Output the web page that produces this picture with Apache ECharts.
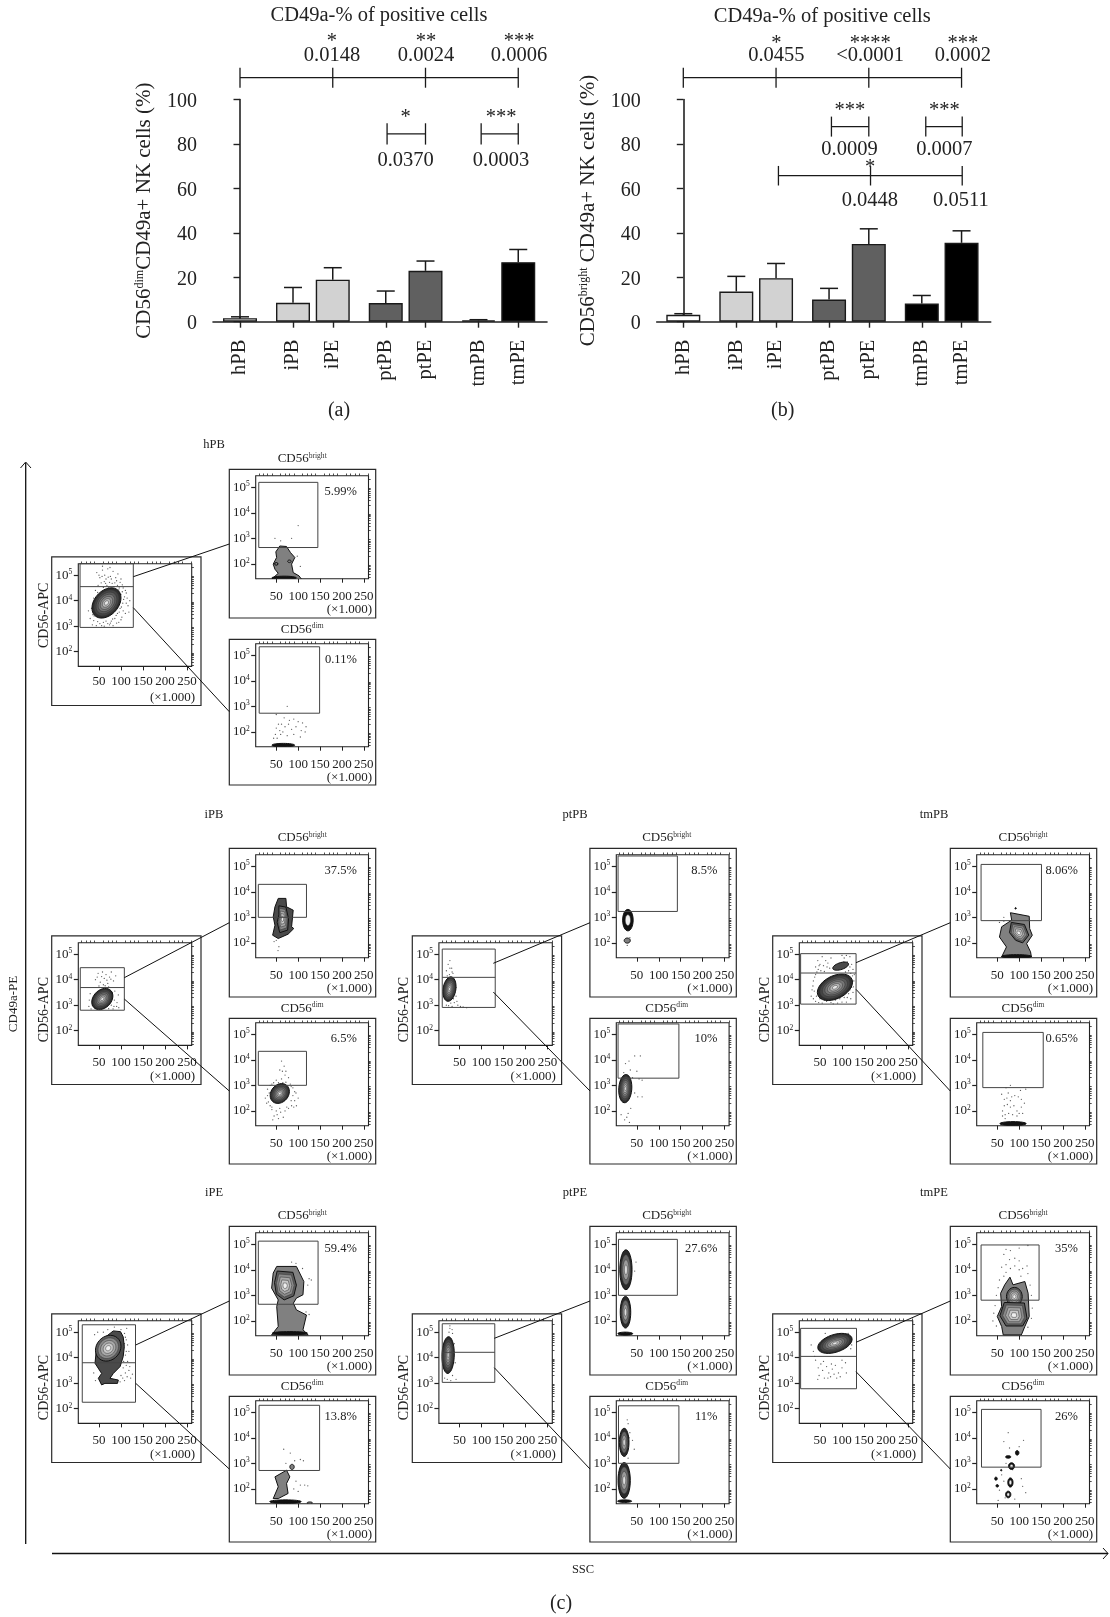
<!DOCTYPE html>
<html><head><meta charset="utf-8">
<style>html,body{margin:0;padding:0;background:#fff}#c{width:1110px;height:1617px}</style>
<script src="https://cdn.jsdelivr.net/npm/echarts@6/dist/echarts.min.js"></script>
</head><body><div id="c"></div>
<script>
// ---------- bar panels ----------
const barNames = ['hPB','iPB','iPE','ptPB','ptPE','tmPB','tmPE'];
const barSlots = [0,4,7,11,14,18,21];
const dimValues = [1.6,8.5,18.9,8.4,22.9,0.6,26.8];
const dimErrTop = [2.2,15.4,24.3,13.8,27.3,0.9,32.5];
const brightValues = [3.1,13.6,19.6,10,35,8.2,35.5];
const brightErrTop = [3.6,20.4,26.2,15,41.8,11.8,40.9];
const bracketsA = [[[0,7,14,21],109.8,4.5],[[11.1,14],84.5,4.8],[[18.2,21],84.5,4.8]];
const bracketsB = [[[0,7,14,21],109.8,4.5],[[11.18,14],87.8,4.5],[[18.3,21.05],87.8,4.5],[[7.18,14.13,21.05],65.7,4.4]];
const notesA = [[6.94,126,'*'],[14.04,126,'**'],[21.06,126,'***'],[6.94,119.6,'0.0148'],[14.04,119.6,'0.0024'],[21.06,119.6,'0.0006'],
  [12.5,92,'*'],[19.7,92,'***'],[12.5,72.5,'0.0370'],[19.7,72.5,'0.0003']];
const notesB = [[7.02,125,'*'],[14.1,125,'****'],[21.1,125,'***'],[7.02,119.6,'0.0455'],[14.1,119.6,'<0.0001'],[21.1,119.6,'0.0002'],
  [12.57,95,'***'],[19.7,95,'***'],[12.54,77.6,'0.0009'],[19.7,77.6,'0.0007'],[14.1,69.5,'*'],[14.08,54.5,'0.0448'],[20.95,54.5,'0.0511']];

// ---------- flow panels ----------
const groups = ['hPB','iPB','ptPB','tmPB','iPE','ptPE','tmPE'];
const pctBright = ['5.99%','37.5%','8.5%','8.06%','59.4%','27.6%','35%'];
const pctDim = ['0.11%','6.5%','10%','0.65%','13.8%','11%','26%'];
const xTicksSSC = [50,100,150,200,250];
const logTicks = [2,3,4,5];
// gates: SSC low, SSC high, log10 low, log10 divide, log10 high
const gatesLeft = [[7,128,2.95,4.55,5.45],[7.5,107.6,2.8,3.69,4.47],[10.6,131,2.91,4.09,5.2],[6,132,3.04,4.26,5.02],[12,133,2.25,3.8,5.29],[10.6,130,3.03,4.21,5.33],[6,133,2.78,4.05,5.15]];
const gatesBright = [[10,145,2.64,5.19],[9,119,3,4.29],[7,142.5,3.23,5.4],[13,151,2.87,5.07],[9,145.5,2.65,5.12],[8,142.5,3,5.19],[13,145.5,2.81,4.97]];
const gatesDim = [[11,149,2.73,5.33],[9,119,3,4.33],[7,146,3.28,5.4],[17,155,2.91,5.07],[10.6,149,2.72,5.27],[8,146,3,5.25],[14,150,2.85,5.11]];

// contour outlines: ['e', SSC, log10, radiusSSC, radiusLog, slope, tone] or ['p', [[SSC,log10],...], tone]
const blobsLeft = [
 [['e',67,3.91,33,.56,.2,'dense']],
 [['e',57.6,3.24,24,.4,.12,'dense']],
 [['e',27,3.63,15,.47,.1,'dense']],
 [['e',97,4.53,18,.14,.08,'dark'],['e',84,3.7,40,.48,.2,'dense']],
 [['p',[[44.7,4.43],[48.5,4.56],[61,4.76],[82.6,5.05],[99,5.02],[105,4.82],[107.6,4.43],[105,4.04],[98,3.65],[82.6,3.38],[75,3.19],[94,3.12],[92,2.99],[63.6,2.99],[56,2.93],[48.5,3.19],[56,3.38],[41,3.78]],'dark'],['e',71,4.37,29,.5,.08,'inner']],
 [['e',24,4.1,14,.72,.05,'dense']],
 [['e',84,4.56,39,.36,.16,'dense']]
];
const blobsBright = [
 [['p',[[58,2.7],[73.5,2.68],[82.6,2.44],[92.4,2.25],[85,1.99],[88.7,1.66],[102,1.53],[107.6,1.4],[39.4,1.4],[54.5,1.63],[47,1.79],[43,1.99],[50.8,2.25],[49,2.47]],'grey'],['e',68,1.45,28,.07,0,'black'],['e',50,2,4,.05,0,'ring'],['e',80,2.1,4,.05,0,'grey']],
 [['p',[[54.5,3.74],[72,3.74],[73.5,3.41],[88.7,3.28],[85,2.63],[90,2.56],[77,2.34],[54.5,2.17],[41.7,2.3],[47,2.69],[43,3.02],[47,3.41]],'dark'],['p',[[56,3.45],[72,3.4],[78,2.95],[76,2.5],[58,2.4],[52,2.8],[56,3.1]],'inner']],
 [['e',29.5,2.89,12,.42,0,'ring'],['e',28,2.09,7,.1,0,'grey']],
 [['p',[[80,3.18],[123,3.04],[124,2.56],[130,2.3],[117,1.97],[126,1.65],[128,1.45],[60,1.45],[71,1.84],[55,2.23],[60,2.63],[83,2.89]],'grey'],['p',[[82,2.8],[112,2.72],[122,2.3],[108,2],[92,2.1],[78,2.4]],'inner'],['e',94,1.47,34,.07,0,'black'],['e',92,3.35,1.5,.03,0,'black']],
 [['p',[[51,4.13],[96,4.13],[113,3.54],[111,3.02],[96,2.89],[89,2.69],[96,2.43],[119,2.23],[111,1.65],[123,1.45],[39.4,1.45],[54.5,1.78],[51,2.56],[54.5,2.82],[39.4,3.28],[43,3.87]],'grey'],['p',[[52,3.95],[88,3.9],[96,3.4],[90,2.98],[68,2.82],[50,3.05],[46,3.5]],'inner'],['e',81,1.52,40,.06,0,'black']],
 [['e',25,4,14,.78,0,'tall'],['e',24,2.34,12,.62,0,'tall'],['e',23.5,1.5,17,.06,0,'black']],
 [['p',[[79,3.71],[86,3.41],[113,3.54],[120.5,3.08],[123,2.17],[113,1.78],[105,1.45],[63.6,1.45],[60,1.78],[50,2.17],[60,2.56],[57.6,3.08],[67,3.41]],'grey'],['e',89,2.95,18,.36,0,'inner'],['p',[[66,2.72],[112,2.7],[118,2.1],[108,1.8],[70,1.8],[56,2.2]],'inner']]
];
const blobsDim = [
 [['e',66,1.48,26,.07,0,'black']],
 [['e',58,2.68,22,.38,.08,'dense']],
 [['e',23.5,2.87,15,.55,.06,'dense']],
 [['e',86,1.5,30,.08,0,'black']],
 [['p',[[47,2.47],[73.5,2.73],[81,2.47],[73.5,2.21],[77,1.82],[54.5,1.62],[43,1.62],[54.5,2.08]],'grey'],['e',86,2.86,5,.1,0,'grey'],['e',71,1.5,36,.07,0,'black'],['e',126.5,1.45,6,.04,0,'grey']],
 [['e',21,3.82,11,.55,0,'tall'],['e',21,2.33,14,.7,0,'tall'],['e',22,1.52,16,.05,0,'black']],
 [['e',75,3.25,6,.05,0,'black'],['e',95.5,3.41,4,.09,0,'black'],['e',82.6,2.89,7,.13,0,'ring'],['e',80,2.25,6,.18,0,'ring'],['e',75,1.78,6,.13,0,'ring'],['e',47,2.4,3,.06,0,'black'],['e',50,2.12,3,.05,0,'black'],['e',59,2.73,1.5,.03,0,'black']]
];

// individual events: [SSC, log10 CD56-APC]
const dotsLeft = [
 [[45,5.1],[52,4.9],[58,5.2],[63,5],[70,5.25],[76,4.95],[82,5.15],[88,4.9],[93,5.05],[55,4.7],[62,4.75],[68,4.6],[74,4.72],[80,4.68],[86,4.7],[92,4.6],[98,4.72],[48,4.6],[42,4.4],[38,4.1],[33,3.7],[30,3.3],[35,3.05],[44,3.02],[52,3.1],[62,3],[70,3.1],[78,3.2],[86,3.3],[92,3.5],[98,3.7],[104,3.9],[108,4.15],[112,4.3],[116,3.8],[110,3.5],[120,4],[102,3.35],[95,3.15],[82,3.02],[58,5.35],[75,5.3],[100,4.85],[39,3.4],[26,3.6],[105,4.5],
  [50,5],[66,4.85],[72,4.5],[78,4.85],[84,4.55],[90,4.78],[96,4.5],[103,4.62],[60,4.52],[65,4.68],[71,4.92],[57,4.95],[47,4.32],[41,3.85],[36,3.45],[38,3.22],[47,3.18],[56,3.02],[66,3.2],[74,3.05],[81,3.28],[89,3.42],[96,3.55],[101,3.75],[106,4.05],[110,4.4],[114,4.1],[105,3.6],[118,3.55],[112,3.9],[100,3.25],[90,3.12],[76,3.12],[60,3.15],[100,4.25],[103,4.35],[95,4.42],[98,3.95]],
 [[42,4],[48,4.25],[53,3.9],[58,4.3],[62,4.05],[66,4.2],[70,3.85],[74,4.1],[78,4.3],[83,3.95],[88,4.15],[50,3.75],[60,3.8],[68,3.98],[35,3],[32,2.85],[40,2.9],[78,3],[85,3.2],[90,2.95],[94,3.4],[82,2.85],[28,3.2],[86,3.55],[91,3.1],
  [56,4.12],[72,3.72],[64,3.76],[80,3.5],[76,3.3],[84,2.95],[30,3.45],[27,2.95],[44,2.86],[72,2.86],[95,2.9],[46,4.1],[77,4.02]],
 [[24,4.6],[28,4.75],[32,4.45],[20,4.35],[35,4.25],[27,4.2],[38,3.9],[16,3.3],[42,3.35],[38,3.1],[46,3],[52,2.95],[58,2.93],[66,2.9],[33,2.95],[25,2.98],[20,3],[44,3.15],
  [30,4.1],[22,4.15],[38,3.55],[42,3.7],[36,3.25],[18,3.55],[30,3.08],[28,4.45],[33,4.3]],
 [[40,4.5],[45,4.75],[50,4.6],[55,4.9],[58,4.55],[63,4.75],[72,4.45],[75,4.85],[105,4.85],[112,4.7],[118,4.9],[122,4.6],[125,4.4],[115,4.35],[108,4.3],[40,4.2],[35,3.95],[32,3.6],[35,3.25],[40,3.15],[47,3.1],[55,3.08],[65,3.15],[75,3.1],[85,3.2],[95,3.25],[105,3.3],[115,3.45],[122,3.7],[127,3.95],[128,4.2],[120,3.25],[30,3.35],[110,3.12],[125,3.5],
  [46,4.4],[52,4.35],[60,4.32],[66,4.5],[68,4.65],[48,4.55],[110,4.55],[118,4.5],[124,4.15],[120,4.25],[116,4.05],[126,3.72],[118,3.6],[112,3.3],[100,3.12],[90,3.08],[80,3.05],[70,3.22],[60,3.2],[50,3.25],[42,3.35],[37,3.55],[34,3.75],[38,4.1],[43,4.3],[104,4.7],[100,4.95],[110,4.95]],
 [[100,5.1],[108,4.95],[112,4.7],[115,4.5],[118,4.25],[110,4.1],[115,3.85],[105,3.6],[110,3.4],[118,3.5],[122,3.2],[108,3.1],[100,3.3],[85,5.2],[70,5.1],[60,5],[120,3.65],[126,3.35],[40,4.9],[47,5],[113,5.15],
  [110,4.8],[108,4.55],[112,4.25],[106,3.85],[112,3.7],[104,3.2],[114,3.25],[98,3.05],[38,3.4],[42,3.1]],
 [[28,5.25],[33,5.1],[26,5],[34,4.95],[30,4.75],[38,4.55],[36,4.1],[40,3.8],[16,3.2],[22,3.15],[30,3.1],[34,3.3],[42,3.15],[28,5.15]],
 [[40,3.9],[46,3.6],[52,3.75],[48,3.3],[56,3.5],[60,3.2],[65,3.65],[70,3.4],[74,3.25],[78,3.55],[85,3.7],[92,3.4],[96,3.25],[100,3.6],[108,3.8],[45,3.15],[110,3.4],[35,4.25],[118,4.75],[30,4.5],[122,4.5],
  [58,3.85],[68,3.2],[82,3.35],[88,3.2],[76,3.75],[100,3.9],[38,4.05],[114,4.95],[120,4.35],[112,4.85],[62,4.95],[52,4.55]]
];
const dotsBright = [
 [[47,3],[85,3],[100,3.5],[60,2.9],[105,1.9],[98,2.3],[92,1.6]],
 [[50,2.1],[56,1.85],[54,1.7],[45,2.05]],
 [[28,1.9],[34,2.2]],
 [[65,3],[55,2.8],[65,2.85]],
 [[85,4.3],[95,4.25],[110,4.05],[125,3.65],[130,3.6],[122,3.4],[118,2.35],[125,2.25]],
 [[33,4.05],[45,3.95],[48,4.3]],
 [[70,4.8],[80,4.75],[100,4.85],[120,4.95],[65,4.6],[78,4.4],[90,4.45],[100,4.35],[60,4.1],[70,4.2],[80,4.05],[90,4.15],[100,4],[108,4.05],[118,4.15],[120,3.85],[55,3.6],[52,3.3],[48,3],[45,2.6],[42,2.3],[40,2],[48,1.8],[125,3.4],[128,3],[130,2.5],[128,2.1],[120,1.75],[70,3.9],[104,3.75],[65,3.75]]
];
const dotsDim = [
 [[50,2.68],[75,3],[68,2.55],[80,2.45],[90,2.5],[100,2.4],[110,2.35],[118,2.2],[116,2],[107,2.05],[95,2.2],[85,2.1],[78,2.3],[70,2.2],[62,2.3],[55,2.3],[50,2.15],[58,2.05],[48,1.9],[44,1.75],[52,1.75],[60,1.9],[75,1.85],[90,1.9],[105,1.8],[65,2]],
 [[62,3.95],[68,3.75],[58,3.6],[70,3.4],[50,3.2],[62,3.25],[78,3.3],[40,3.05],[82,3.05],[88,2.9],[95,2.7],[100,2.5],[92,2.4],[85,2.2],[78,2.1],[70,2],[60,1.95],[50,2],[40,2.15],[32,2.35],[30,2.6],[30,2.85],[36,3],[45,1.8],[55,1.7],[66,1.75],[42,1.65],[47,2.95],[72,3.55],[65,3.1],[96,2.2],[84,2.95],[25,2.5],[36,2.2],
  [55,3.1],[72,3.12],[44,3.1],[34,2.7],[88,2.6],[92,2.75],[84,2.4],[90,2.15],[28,2.3],[40,2.05],[58,2.1],[74,2.15],[52,1.85],[64,3.55]],
 [[24,3.85],[32,3.95],[45,4.15],[58,4.15],[20,3.5],[35,3.6],[50,3.55],[62,3.2],[40,3.3],[55,3.25],[45,2.7],[52,2.55],[62,2.55],[36,2.1],[30,1.9],[22,1.65],[14,1.85],[27,1.75],[33,1.55]],
 [[80,3],[70,2.9],[75,2.7],[60,2.65],[66,2.45],[72,2.5],[83,2.55],[90,2.6],[98,2.55],[105,2.45],[115,2.85],[112,2.3],[105,2.15],[95,2],[88,2.2],[80,2.15],[73,2.25],[66,2.2],[62,2],[68,1.85],[76,1.9],[85,1.85],[95,1.8],[100,1.9],[108,1.9],[62,1.8],[80,2.4],[103,2.8],[68,1.7]],
 [[67,3.55],[82,3.4],[92,3.1],[105,3.15],[112,3.1],[72,3],[95,2.3],[105,2.15],[115,2.15],[122,2.12],[90,2],[100,1.9]],
 [[28,4.7],[30,4.55],[34,4.2],[40,3.9],[44,3.55],[32,4],[30,3.2]],
 [[75,4.2],[65,3.85],[78,3.6],[100,3.65],[110,3.9],[70,3],[85,2.75],[105,2.4],[108,2.1],[60,2.55],[55,1.95],[52,1.55],[68,1.65],[90,1.6],[115,1.85],[65,2.3]]
];

// ---------- layout and styling ----------
const SERIF = '"Liberation Serif","Times New Roman",serif';
const INK = '#222';
const barFills = ['#ffffff','#d2d2d2','#d2d2d2','#606060','#606060','#000000','#000000'];
const palette = {
  dense:['#2e2e2e','#444','#5a5a5a','#757575','#909090','#b5b5b5','#e6e6e6'],
  tall:['#2a2a2a','#666','#9a9a9a','#dcdcdc'],
  dark:['#4a4a4a'], grey:['#808080'], black:['#111'],
  inner:['#5c5c5c','#8a8a8a','#a8a8a8','#c8c8c8','#eeeeee'],
  ring:['#111','#f0f0f0']
};
const colBase = [51.7,412.3,772.7];
const rowBase = [469.3,848.3,1226.3];
const groupCol = [0,0,1,2,0,1,2];
const groupRow = [0,1,1,1,2,2,2];
const groupLabelY = [444,814,1191.7];
const groupLabelDx = [162.3,162.7,161.3];
const subtitleDx = [250.5,254.4,250.3];
const apcLabelDy = [58.5,73.8,73.6];
const SUP = {fontSize:7.5,padding:[0,0,6,0],fontFamily:SERIF,fill:'#333',color:'#333'};

const grid=[],xAxis=[],yAxis=[],series=[],graphic=[];

function txt(x,y,text,size,opt){
  graphic.push(Object.assign({type:'text',x,y:(opt&&opt.rotation)?y:y+1,z:20,silent:true,style:{text,fontFamily:SERIF,fontSize:size,fill:INK,align:'center',verticalAlign:'middle',rich:{s:Object.assign({},SUP,{fontSize:size*0.58,padding:[0,0,size*0.45,0]})}}},opt||{}));
}
function rect(x,y,w,h){graphic.push({type:'rect',z:20,silent:true,shape:{x,y,width:w,height:h},style:{fill:'none',stroke:'#2a2a2a',lineWidth:1.2}});}
function line(x1,y1,x2,y2,w){graphic.push({type:'line',z:21,silent:true,shape:{x1,y1,x2,y2},style:{stroke:'#111',lineWidth:w||1}});}

// bar panel
function barPanel(g,left,right,values,errTop,brackets,notes,name,nameGap){
  grid.push({left,top:99.5,width:right-left,height:222.2});
  xAxis.push({type:'value',gridIndex:g,min:(left-(g?683.3:240))/13.25,max:(right-(g?683.3:240))/13.25,
    axisLine:{onZero:false,lineStyle:{color:INK,width:1.6}},splitLine:{show:false},
    axisTick:{customValues:barSlots,length:6,lineStyle:{color:INK,width:1.4}},
    axisLabel:{customValues:barSlots,rotate:90,margin:18,fontFamily:SERIF,fontSize:20.5,color:INK,
      formatter:v=>barNames[barSlots.indexOf(v)]}});
  yAxis.push({type:'value',gridIndex:g,min:0,max:100,interval:20,
    axisLine:{show:true,lineStyle:{color:INK,width:1.6}},splitLine:{show:false},
    axisTick:{show:true,length:6.5,lineStyle:{color:INK,width:1.4}},
    axisLabel:{margin:16,fontFamily:SERIF,fontSize:20,color:INK,formatter:v=>'{v|'+v+'}',
      rich:{v:{padding:[4,0,0,0],fontFamily:SERIF,fontSize:20,color:INK}}},
    name,nameLocation:'middle',nameGap,
    nameTextStyle:{fontFamily:SERIF,fontSize:21,color:INK,rich:{s:{fontSize:12,padding:[0,0,9,0],fontFamily:SERIF,color:INK}}}});
  series.push({type:'bar',xAxisIndex:g,yAxisIndex:g,barWidth:34,z:3,silent:true,
    data:barSlots.map((s,i)=>({value:[s,values[i]],itemStyle:{color:barFills[i],borderColor:'#1a1a1a',borderWidth:1.4}}))});
  series.push({type:'custom',xAxisIndex:g,yAxisIndex:g,z:2,silent:true,
    data:barSlots.map((s,i)=>[s,errTop[i],values[i]]),encode:{x:0,y:1},
    renderItem(p,api){
      const a=api.coord([api.value(0),api.value(1)]),b=api.coord([api.value(0),api.value(2)]);
      const st={stroke:'#1a1a1a',lineWidth:1.5};
      return {type:'group',children:[
        {type:'line',shape:{x1:a[0],y1:a[1],x2:b[0],y2:b[1]},style:st},
        {type:'line',shape:{x1:a[0]-9,y1:a[1],x2:a[0]+9,y2:a[1]},style:st}]};
    }});
  series.push({type:'custom',xAxisIndex:g,yAxisIndex:g,z:4,silent:true,
    data:brackets.map(b=>[b[0][0],b[1]]),encode:{x:0,y:1},
    renderItem(p,api){
      const [sl,y,h]=brackets[p.dataIndex],st={stroke:'#1a1a1a',lineWidth:1.3};
      const A=api.coord([sl[0],y]),B=api.coord([sl[sl.length-1],y]);
      const kids=[{type:'line',shape:{x1:A[0],y1:A[1],x2:B[0],y2:B[1]},style:st}];
      sl.forEach(s=>{const t=api.coord([s,y+h]),u=api.coord([s,y-h]);kids.push({type:'line',shape:{x1:t[0],y1:t[1],x2:u[0],y2:u[1]},style:st});});
      return {type:'group',children:kids};
    }});
  series.push({type:'custom',xAxisIndex:g,yAxisIndex:g,z:4,silent:true,
    data:notes.map(n=>[n[0],n[1]]),encode:{x:0,y:1},
    renderItem(p,api){
      const n=notes[p.dataIndex],c=api.coord([n[0],n[1]]);
      return {type:'text',x:c[0],y:c[1],style:{text:n[2],fontFamily:SERIF,fontSize:20.5,fill:INK,align:'center',verticalAlign:'middle'}};
    }});
}
barPanel(0,213,547,dimValues,dimErrTop,bracketsA,notesA,'CD56{s|dim}CD49a+ NK cells (%)',58);
barPanel(1,656.7,990.7,brightValues,brightErrTop,bracketsB,notesB,'CD56{s|bright} CD49a+ NK cells (%)',58);

// flow plot
const minorX=[];for(let v=10;v<=260;v+=10)if(v%50)minorX.push(v);
const minorY=[];for(let d=1;d<=5;d++)for(let k=2;k<=9;k++){const v=d+Math.log10(k);if(v>1.42&&v<5.45)minorY.push(v);}
function flowPlot(x,y,w,h,gate,blobs,dots,labelMargin){
  const g=grid.length;
  grid.push({left:x,top:y,width:w,height:h,show:true,borderColor:'#222',borderWidth:1.1,backgroundColor:'transparent'});
  const ax=xAxis.length,ay=yAxis.length;
  const baseX={type:'value',gridIndex:g,min:3,max:260.7,splitLine:{show:false},axisLine:{show:false,onZero:false}};
  const baseY={type:'value',gridIndex:g,min:1.42,max:5.45,splitLine:{show:false},axisLine:{show:false,onZero:false}};
  xAxis.push(Object.assign({},baseX,{axisTick:{customValues:xTicksSSC,length:4,lineStyle:{color:INK,width:1}},
    axisLabel:{customValues:xTicksSSC,margin:labelMargin,fontFamily:SERIF,fontSize:13,color:INK}}));
  xAxis.push(Object.assign({},baseX,{axisTick:{customValues:minorX,length:2.2,lineStyle:{color:INK,width:.8}},axisLabel:{show:false}}));
  yAxis.push(Object.assign({},baseY,{axisTick:{customValues:logTicks,length:4.5,lineStyle:{color:INK,width:1.2}},
    axisLabel:{customValues:logTicks,margin:6,fontFamily:SERIF,fontSize:13,color:INK,formatter:v=>'10{s|'+v+'}',
      rich:{s:{fontSize:7.5,padding:[0,0,6,0],fontFamily:SERIF,color:INK}}}}));
  yAxis.push(Object.assign({},baseY,{axisTick:{customValues:minorY,length:2.2,lineStyle:{color:INK,width:.8}},axisLabel:{show:false}}));

  series.push({type:'scatter',xAxisIndex:ax,yAxisIndex:ay,z:3,silent:true,symbolSize:1.3,itemStyle:{color:'#333'},data:dots});
  series.push({type:'custom',xAxisIndex:ax,yAxisIndex:ay,z:4,silent:true,clip:true,
    data:blobs.map(b=>[b[0]==='e'?b[1]:b[1][0][0],b[0]==='e'?b[2]:b[1][0][1]]),encode:{x:0,y:1},
    renderItem(p,api){
      const b=blobs[p.dataIndex];let pts,tone;
      if(b[0]==='e'){
        tone=palette[b[6]];pts=[];
        for(let i=0;i<32;i++){const t=i/32*2*Math.PI,c=Math.cos(t),s=Math.sin(t);
          pts.push(api.coord([b[1]+b[3]*c,b[2]+b[4]*s+b[5]*c]));}
      }else{tone=palette[b[2]];pts=b[1].map(q=>api.coord(q));}
      const cx=pts.reduce((a,q)=>a+q[0],0)/pts.length,cy=pts.reduce((a,q)=>a+q[1],0)/pts.length;
      const kids=tone.map((f,i)=>{const k=1-i/tone.length;
        return {type:'polygon',shape:{points:pts.map(q=>[cx+(q[0]-cx)*k,cy+(q[1]-cy)*k])},
          style:{fill:f,stroke:i===0?'#111':'#333',lineWidth:i===0?1:.5}};});
      return {type:'group',children:kids};
    }});
  series.push({type:'custom',xAxisIndex:ax,yAxisIndex:ay,z:5,silent:true,clip:false,
    data:[[gate[0],gate[2]]],encode:{x:0,y:1},
    renderItem(p,api){
      const hi=gate[gate.length-1],lo=gate[2],st={fill:'none',stroke:'#444',lineWidth:1};
      const a=api.coord([gate[0],hi]),b=api.coord([gate[1],lo]);
      const kids=[{type:'rect',shape:{x:a[0],y:a[1],width:b[0]-a[0],height:b[1]-a[1]},style:st}];
      if(gate.length===5){const d=api.coord([gate[0],gate[3]]);
        kids.push({type:'line',shape:{x1:a[0],y1:d[1],x2:b[0],y2:d[1]},style:st});}
      return {type:'group',children:kids};
    }});
  graphic.push({type:'text',x:x+w+3.5,y:y+h+31,z:20,silent:true,style:{text:'(×1.000)',fontFamily:SERIF,fontSize:13,fill:INK,align:'right',verticalAlign:'middle'}});
}

groups.forEach((name,i)=>{
  const cx=colBase[groupCol[i]],by=rowBase[groupRow[i]],col=groupCol[i],row=groupRow[i];
  txt(cx+groupLabelDx[col],groupLabelY[row],name,12.5);
  // left
  rect(cx,by+87.6,149.3,148.6);
  flowPlot(cx+26.6,by+94.4,113.4,102.7,gatesLeft[i],blobsLeft[i],dotsLeft[i],row===0?8.5:11);
  txt(cx-7.8,by+87.6+apcLabelDy[row],'CD56-APC',14,{rotation:Math.PI/2});
  // bright
  txt(cx+subtitleDx[col],by-11.5,'CD56{s|bright}',13);
  rect(cx+177.6,by,146.4,148.7);
  flowPlot(cx+204,by+6.4,112.8,103,gatesBright[i],blobsBright[i],dotsBright[i],11);
  graphic.push({type:'text',z:20,silent:true,x:cx+204+112.8-11.7,y:by+6.4+16,style:{text:pctBright[i],fontFamily:SERIF,fontSize:12.5,fill:INK,align:'right',verticalAlign:'middle'}});
  // dim
  txt(cx+subtitleDx[col],by+159,'CD56{s|dim}',13);
  rect(cx+177.6,by+170,146.4,145.7);
  flowPlot(cx+204,by+174.4,112.8,103,gatesDim[i],blobsDim[i],dotsDim[i],11);
  graphic.push({type:'text',z:20,silent:true,x:cx+204+112.8-11.7,y:by+174.4+16,style:{text:pctDim[i],fontFamily:SERIF,fontSize:12.5,fill:INK,align:'right',verticalAlign:'middle'}});
});

// connector lines from the gates on the left plots to the sub-plots
[[133.3,576.7,229.3,544],[133.3,607.7,229.3,711.7],
 [124.3,977.7,229.3,922.7],[124.3,999,229.3,1091],
 [493.3,963.3,590,922.7],[493.3,992,590,1091],
 [856,962.7,950.3,922.7],[856,989.3,950.3,1091],
 [135.7,1345,229.3,1301],[135.7,1383.3,229.3,1469],
 [494.3,1338.3,590,1301],[494.3,1367.7,590,1469],
 [856,1342.3,950.3,1301],[856,1371.7,950.3,1469]].forEach(l=>line(l[0],l[1],l[2],l[3],1));

// big axes
line(25.7,463,25.7,1544,1.3);
line(25.7,462,20.5,468,1); line(25.7,462,31,468,1);
line(52,1553.5,1108,1553.5,1.3);
line(1108,1553.5,1103,1548,1); line(1108,1553.5,1103,1559,1);
txt(14,1004,'CD49a-PE',13,{rotation:Math.PI/2});
txt(583,1569,'SSC',12.5);
txt(561,1603,'(c)',20);
txt(339,410,'(a)',20);
txt(782.7,410,'(b)',20);
txt(379,15,'CD49a-% of positive cells',20.5);
txt(822.3,15.5,'CD49a-% of positive cells',20.5);

const chart=echarts.init(document.getElementById('c'));
chart.setOption({animation:false,backgroundColor:'#fff',grid,xAxis,yAxis,series,graphic});
</script></body></html>
